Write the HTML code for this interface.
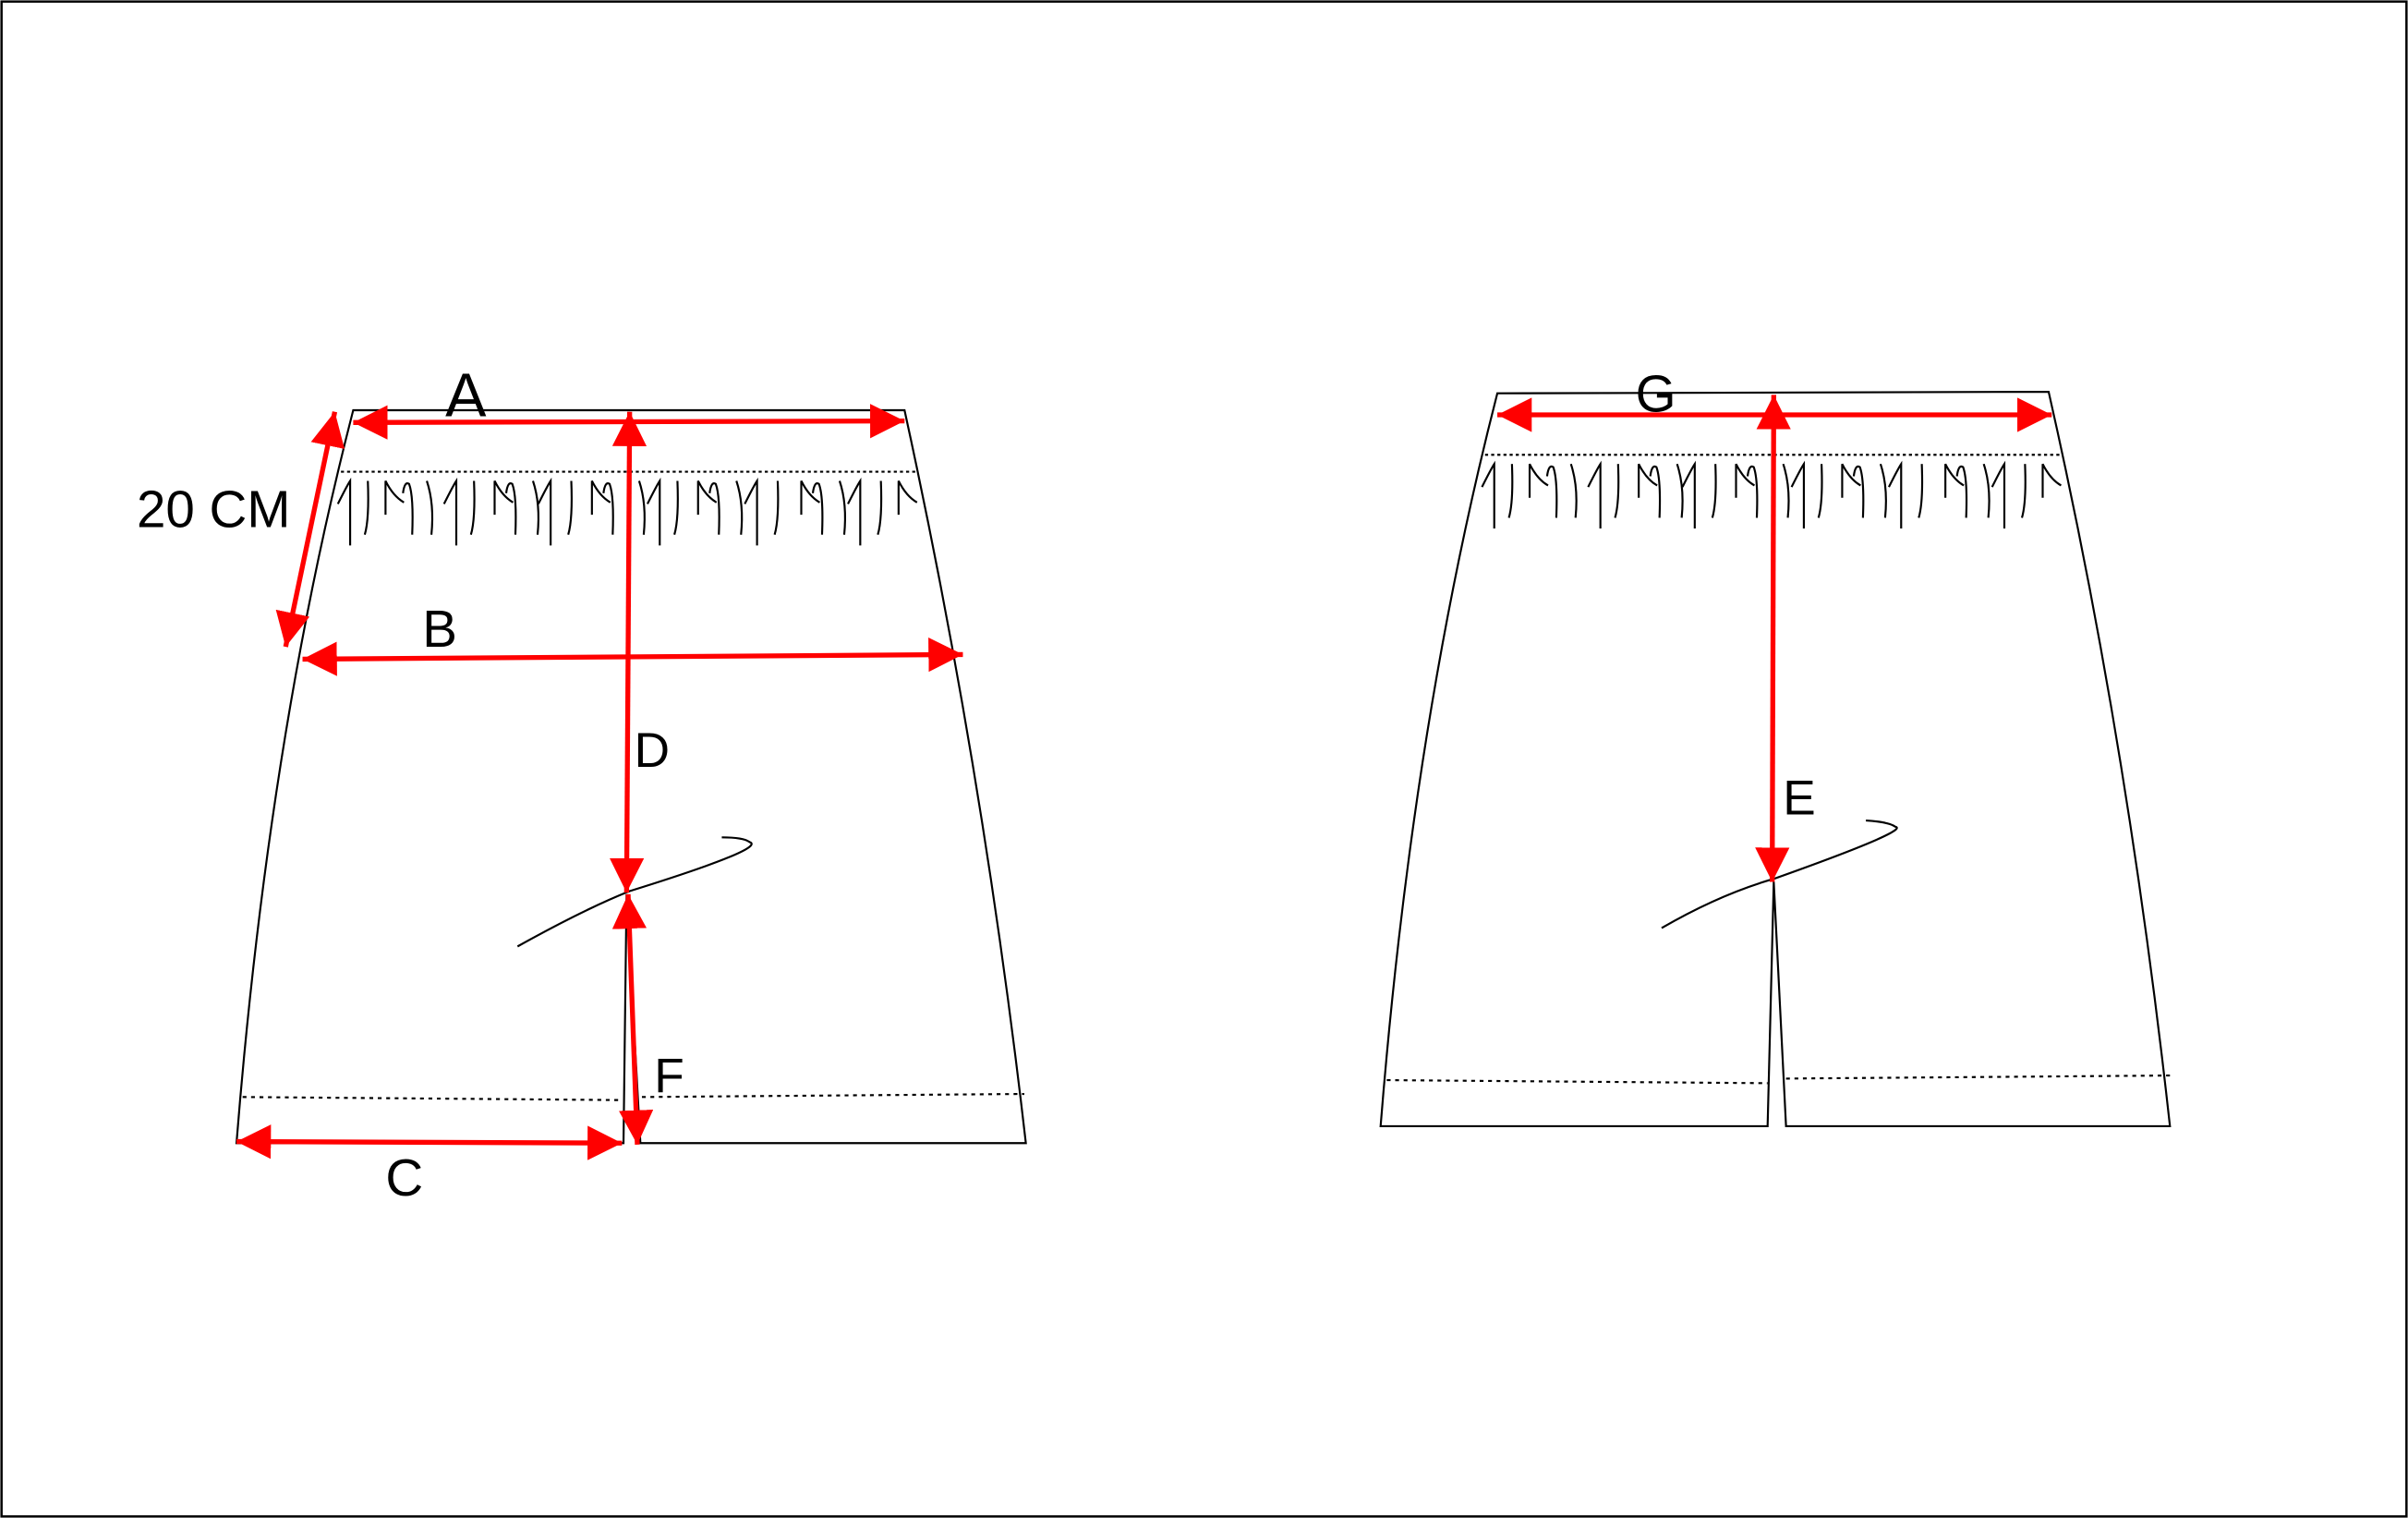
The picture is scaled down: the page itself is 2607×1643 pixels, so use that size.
<!DOCTYPE html>
<html><head><meta charset="utf-8"><style>
html,body{margin:0;padding:0;background:#fff}
svg{display:block}
text{font-family:"Liberation Sans",sans-serif;fill:#000}
</style></head><body>
<svg id="s" width="2607" height="1643" viewBox="0 0 1568 988" preserveAspectRatio="none" xmlns="http://www.w3.org/2000/svg">
<defs>
<marker id="ah" viewBox="0 0 10 10" refX="10" refY="5" markerWidth="7" markerHeight="7" orient="auto-start-reverse" markerUnits="strokeWidth">
<path d="M0,0 L10,5 L0,10 Z" fill="#f00"/></marker>
</defs>
<rect x="1" y="1" width="1566" height="986" fill="#fff" stroke="#000" stroke-width="1.5"/>
<g fill="none" stroke="#000" stroke-width="1.3">
<path d="M230,267 L589,267 Q640,500 668,744 L417,744 L408,582 L406,744 L154,744 Q175,480 230,267 Z" fill="#fff"/>
<path d="M222,307 L597,307" stroke-dasharray="2,2"/>
<path d="M158,714 L405,716 M418,714 L667,712" stroke-dasharray="2.5,3"/>
<path d="M337,616 Q380,592 410,580 Q500,552 488,548 Q484,545 470,545"/>
<path d="M975,256 L1334,255 Q1385,480 1413,733 L1163,733 L1155,574 L1151,733 L899,733 Q920,470 975,256 Z" fill="#fff"/>
<path d="M967,296 L1342,296" stroke-dasharray="2,2"/>
<path d="M903,703 L1151,705 M1163,702 L1413,700" stroke-dasharray="2.5,3"/>
<path d="M1082,604 Q1120,582 1155,572 Q1245,540 1234,538 Q1230,535 1215,534"/>
<g id="g1"></g><g id="g2"></g>
</g>
<g stroke="#f00" stroke-width="3.2" fill="none" marker-start="url(#ah)" marker-end="url(#ah)">
<line x1="230" y1="275" x2="589" y2="274"/>
<line x1="410" y1="268" x2="408" y2="581"/>
<line x1="197" y1="429" x2="627" y2="426"/>
<line x1="218" y1="268" x2="186" y2="421"/>
<line x1="409" y1="582" x2="415" y2="745"/>
<line x1="154" y1="743" x2="405" y2="744"/>
<line x1="975" y1="270" x2="1336" y2="270"/>
<line x1="1155" y1="257" x2="1154" y2="574"/>
</g>
<text x="290" y="271" font-size="40">A</text>
<text x="89" y="343" font-size="34">20 CM</text>
<text x="275" y="421" font-size="34">B</text>
<text x="413" y="499" font-size="32">D</text>
<text x="426" y="711" font-size="32">F</text>
<text x="251" y="778" font-size="34">C</text>
<text x="1065" y="268" font-size="34">G</text>
<text x="1161" y="530" font-size="32">E</text>
</svg>
<script>
function gath(id,x0,y0){
 var g=document.getElementById(id),h='';
 var xs=[0,12,24,40,52,72,84,98,110,124,136,150,164,176,196,210,222,236,248,262,276,290,306,318,332,346,360,372];
 for(var i=0;i<xs.length;i++){
  var x=x0+xs[i]*0.96,t=i%5,d;
  if(t==0)d='M'+(x-8)+','+(y0+15)+' Q'+(x-2)+','+(y0+3)+' '+x+','+y0+' L'+x+','+(y0+42);
  else if(t==1)d='M'+x+','+y0+' Q'+(x+1)+','+(y0+25)+' '+(x-2)+','+(y0+35);
  else if(t==2)d='M'+x+','+(y0+22)+' L'+x+','+y0+' Q'+(x+5)+','+(y0+10)+' '+(x+12)+','+(y0+14);
  else if(t==3)d='M'+(x-4)+','+(y0+8)+' Q'+(x-3)+','+y0+' '+x+','+(y0+2)+' Q'+(x+3)+','+(y0+10)+' '+(x+2)+','+(y0+35);
  else d='M'+x+','+y0+' Q'+(x+5)+','+(y0+15)+' '+(x+3)+','+(y0+35);
  h+='<path d="'+d+'"/>';
 }
 g.innerHTML=h;
}
gath('g1',228,313);
gath('g2',973,302);
</script>
</body></html>
